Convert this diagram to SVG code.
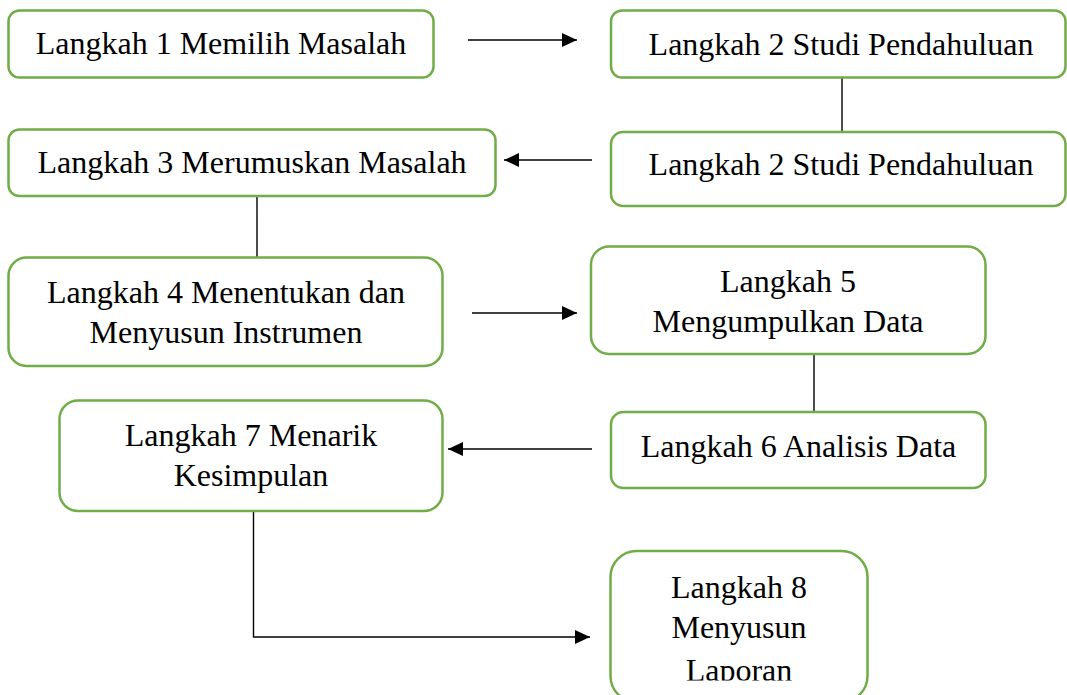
<svg xmlns="http://www.w3.org/2000/svg" width="1067" height="695" viewBox="0 0 1067 695">
<style>
.box{fill:#FFFFFF;stroke:#70AD47;stroke-width:2.5}
.t{font-family:"Liberation Serif","Times New Roman",serif;font-size:32px;fill:#000;text-anchor:middle}
.c{fill:none;stroke:#000;stroke-width:1.4}
</style>
<defs>
<marker id="ah" markerWidth="15" markerHeight="14" refX="15" refY="7" orient="auto" markerUnits="userSpaceOnUse">
<path d="M0,0 L15,7 L0,14 Z" fill="#000"/>
</marker>
<clipPath id="clip8"><rect x="600" y="540" width="280" height="140.5"/></clipPath>
</defs>
<rect width="1067" height="695" fill="#FFFFFF"/>
<g id="connectors">
<line class="c" x1="468" y1="40" x2="577" y2="40" marker-end="url(#ah)"/>
<line class="c" x1="842" y1="78" x2="842" y2="132"/>
<line class="c" x1="592" y1="160" x2="504" y2="160" marker-end="url(#ah)"/>
<line class="c" x1="257" y1="196" x2="257" y2="257"/>
<line class="c" x1="472" y1="313" x2="577" y2="313" marker-end="url(#ah)"/>
<line class="c" x1="814" y1="354" x2="814" y2="412"/>
<line class="c" x1="592" y1="449" x2="448" y2="449" marker-end="url(#ah)"/>
<polyline class="c" points="253.5,511 253.5,637 590,637" marker-end="url(#ah)"/>
</g>
<g id="node1">
<rect class="box" x="8.5" y="10.5" width="425" height="67" rx="11"/>
<text class="t" x="221" y="54">Langkah 1 Memilih Masalah</text>
</g>
<g id="node2">
<rect class="box" x="611" y="10.5" width="454.5" height="67" rx="11"/>
<text class="t" x="841" y="55">Langkah 2 Studi Pendahuluan</text>
</g>
<g id="node2b">
<rect class="box" x="611" y="132" width="454.5" height="74" rx="12"/>
<text class="t" x="841" y="175">Langkah 2 Studi Pendahuluan</text>
</g>
<g id="node3">
<rect class="box" x="8.5" y="129.5" width="487" height="66.5" rx="11"/>
<text class="t" x="252" y="173">Langkah 3 Merumuskan Masalah</text>
</g>
<g id="node4">
<rect class="box" x="8.5" y="257.5" width="434" height="108.5" rx="18"/>
<text class="t" x="226" y="303">Langkah 4 Menentukan dan</text>
<text class="t" x="226" y="343">Menyusun Instrumen</text>
</g>
<g id="node5">
<rect class="box" x="591" y="246.5" width="394.5" height="107.5" rx="18"/>
<text class="t" x="788" y="292">Langkah 5</text>
<text class="t" x="788" y="332">Mengumpulkan Data</text>
</g>
<g id="node6">
<rect class="box" x="611" y="412" width="374.5" height="76" rx="12.5"/>
<text class="t" x="798.5" y="457">Langkah 6 Analisis Data</text>
</g>
<g id="node7">
<rect class="box" x="59.5" y="400.5" width="383" height="110.5" rx="18.5"/>
<text class="t" x="251" y="446">Langkah 7 Menarik</text>
<text class="t" x="251" y="486">Kesimpulan</text>
</g>
<g id="node8">
<rect class="box" x="610.5" y="551" width="257" height="151" rx="26"/>
<g clip-path="url(#clip8)">
<text class="t" x="739" y="598">Langkah 8</text>
<text class="t" x="739" y="638">Menyusun</text>
<text class="t" x="739" y="681">Laporan</text>
</g>
</g>
</svg>
